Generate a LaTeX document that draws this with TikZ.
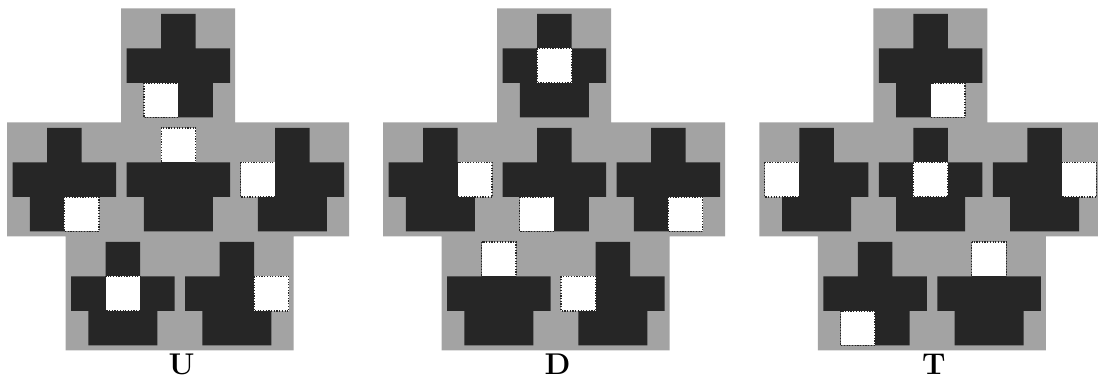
\documentclass[tikz,border=0pt]{standalone}
\definecolor{lightht}{gray}{0.64}
\definecolor{darkht}{gray}{0.15}
\tikzset{
  bgarea/.style={fill=lightht, draw=none},
  crossshape/.style={fill=darkht, draw=none},
  holebox/.style={fill=white, draw=black!85, line width=1.2pt, dash pattern=on 1.2pt off 1.5pt},
  grouplabel/.style={font=\fontsize{30}{30}\selectfont\bfseries, anchor=base, inner sep=0pt},
}
\newcommand\holeT{\draw[holebox] (40,5.5) rectangle (74.5,40);}
\newcommand\holeML{\draw[holebox] (5.5,40) rectangle (40,74.5);}
\newcommand\holeMC{\draw[holebox] (40,40) rectangle (74.5,74.5);}
\newcommand\holeMR{\draw[holebox] (74.5,40) rectangle (109,74.5);}
\newcommand\holeBL{\draw[holebox] (22.75,74.5) rectangle (57.25,109);}
\newcommand\holeBR{\draw[holebox] (57.25,74.5) rectangle (91.75,109);}
\newcommand\hexcell[3]{%
  \begin{scope}[shift={(#1,#2)}]
    \fill[crossshape] (40,5.5) -- (74.5,5.5) -- (74.5,40) -- (109,40) -- (109,74.5)
      -- (91.75,74.5) -- (91.75,109) -- (22.75,109) -- (22.75,74.5) -- (5.5,74.5)
      -- (5.5,40) -- (40,40) -- cycle;
    \csname hole#3\endcsname
  \end{scope}}
\newcommand\hexgroup[8]{%
  \fill[bgarea] (#1+114,8.5) -- (#1+228,8.5) -- (#1+228,122.5) -- (#1+342,122.5)
    -- (#1+342,236.5) -- (#1+286.5,236.5) -- (#1+286.5,350.5) -- (#1+58.5,350.5)
    -- (#1+58.5,236.5) -- (#1,236.5) -- (#1,122.5) -- (#1+114,122.5) -- cycle;
  \hexcell{#1+114}{8.5}{#3}
  \hexcell{#1}{122.5}{#4}
  \hexcell{#1+114}{122.5}{#5}
  \hexcell{#1+228}{122.5}{#6}
  \hexcell{#1+58.5}{236.5}{#7}
  \hexcell{#1+172.5}{236.5}{#8}
  \node[grouplabel] (lab#2) at (#1+174.5,374) {#2};
}
\begin{document}
\begin{tikzpicture}[x=1pt,y=-1pt]
  \useasboundingbox (0,0) rectangle (1098,379);
  \clip (0,0) rectangle (1098,379);
  \hexgroup{7.2}{U}{BL}{BR}{T}{ML}{MC}{MR}
  \hexgroup{383}{D}{MC}{MR}{BL}{BR}{T}{ML}
  \hexgroup{759.3}{T}{BR}{ML}{MC}{MR}{BL}{T}
\end{tikzpicture}
\end{document}
